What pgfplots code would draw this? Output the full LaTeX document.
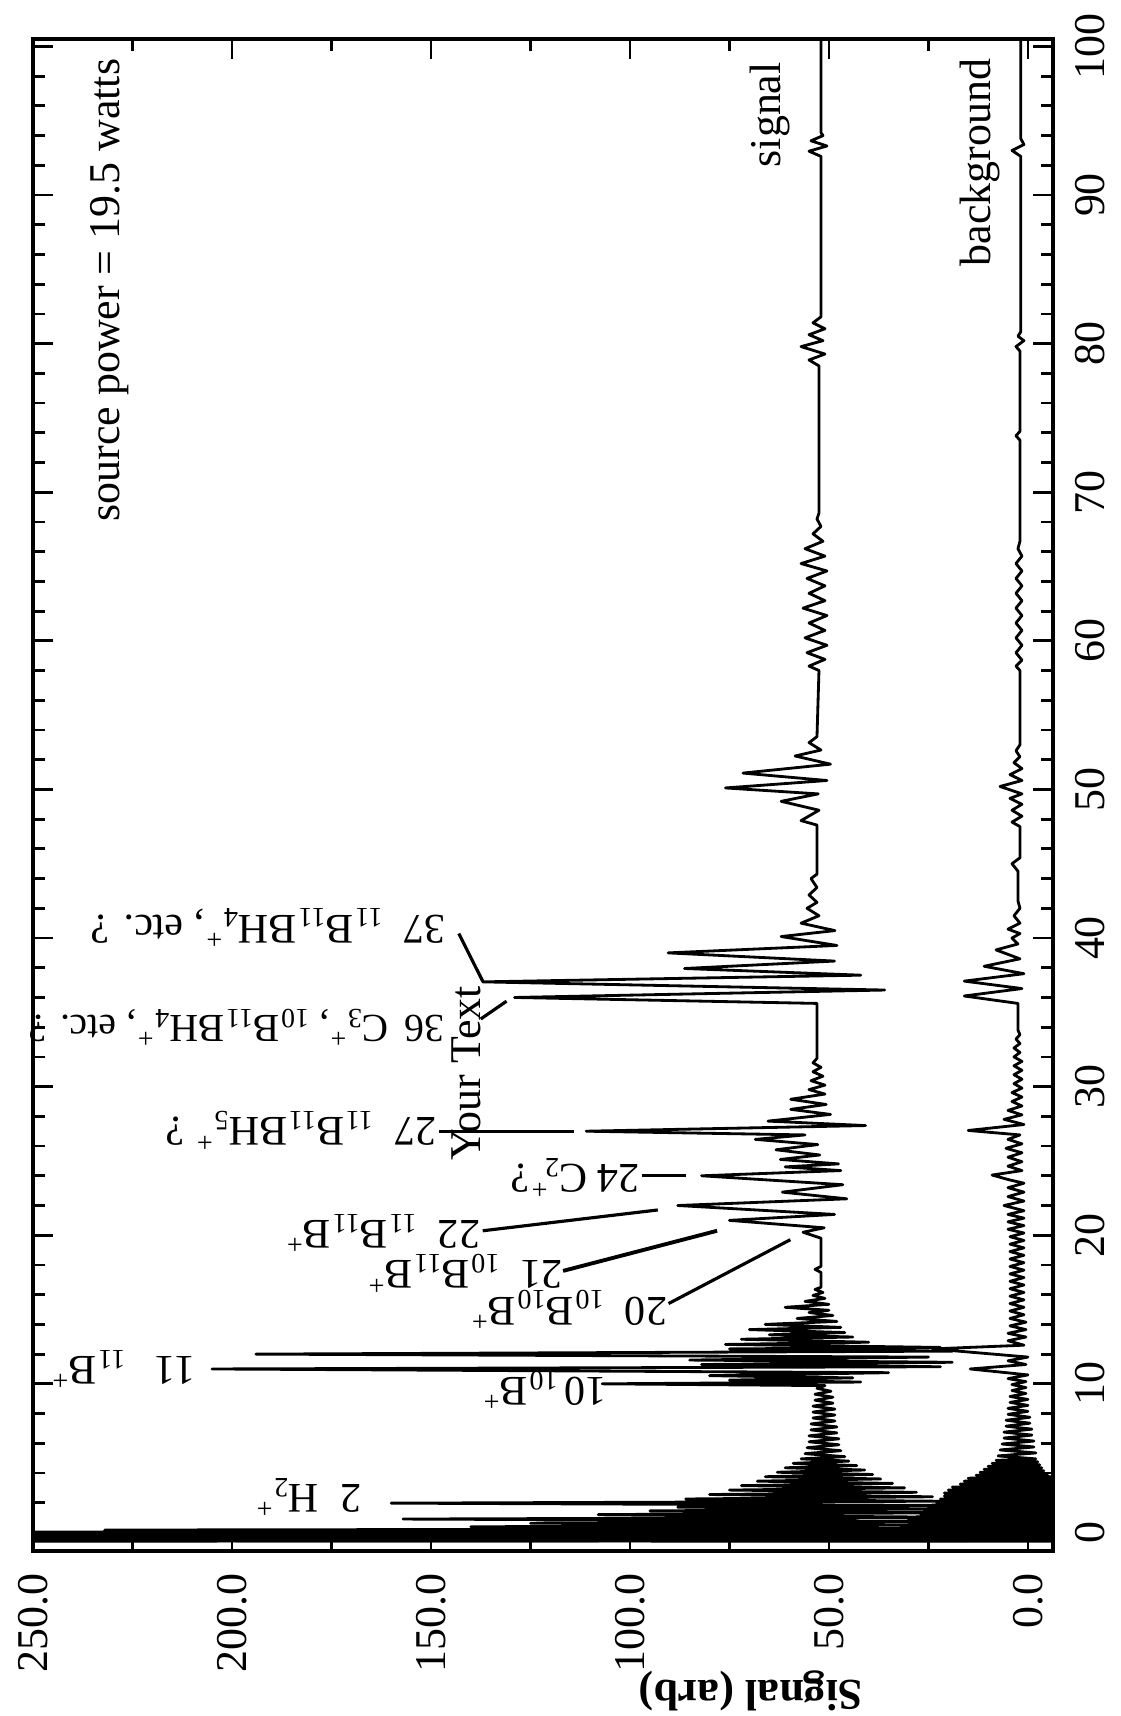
\documentclass[border=0pt]{standalone}
\usepackage{fontspec}
\setmainfont{Liberation Serif}
\usepackage{pgfplots}
\pgfplotsset{compat=1.18}
\newcommand{\sbp}[1]{\textsubscript{#1}\textsuperscript{+}}
\begin{document}
\begin{tikzpicture}[font=\fontsize{12.5}{15}\selectfont]
\begin{axis}[
  at={(0,0)}, anchor=south west,
  scale only axis, width=102mm, height=151.2mm,
  xmin=-6.3, xmax=250, ymin=-1.25, ymax=100.5,
  x dir=reverse,
  clip mode=individual,
  axis line style={line width=1pt},
  xtick={0,50,...,250}, minor x tick num=1,
  ytick={0,10,...,100}, minor y tick num=4,
  tick align=inside, tick pos=both,
  major tick length=2mm, minor tick length=1.2mm,
  every tick/.style={black, line width=0.8pt},
  xticklabel pos=lower, yticklabel pos=upper,
  /pgf/number format/assume math mode=true,
  xticklabel style={rotate=90, anchor=east, inner xsep=2.2mm, /pgf/number format/.cd, fixed, fixed zerofill, precision=1},
  yticklabel style={rotate=90, anchor=north, inner ysep=2.2mm},
]
% signal
\addplot[line width=0.8pt, line join=round] coordinates {
(300,-0.6) (15,-0.55) (300,-0.5) (15,-0.45) (300,-0.4) (15,-0.35) (300,-0.3) (15,-0.25) (300,-0.2) (15,-0.15) (300,-0.1) (15,-0.05) (280,0.02) (16,0.09) (232,0.16) (18,0.25) (140,0.38) (18,0.5) (125,0.62) (19,0.75) (157,0.9) (18,1.02) (108,1.2) (20,1.32) (95,1.45) (20,1.58) (88,1.7) (22,1.82) (160,1.97) (22,2.1) (86,2.25) (24,2.4) (80,2.55) (28,2.7) (75,2.85) (31,3.0) (72,3.15) (34,3.3) (68,3.45) (37,3.6) (66,3.75) (39,3.9) (63,4.05) (41,4.2) (61,4.35) (43,4.5) (59,4.65) (45,4.8) (57,4.95)
(46,5.1) (56,5.3) (47,5.5) (55.5,5.7) (47.5,5.9) (55,6.1) (47.5,6.3) (55,6.5) (48,6.7) (54.5,6.9) (48,7.1) (54.5,7.3) (48.5,7.5) (54,7.7) (48.5,7.9) (54,8.1) (48.5,8.3) (54,8.5) (49,8.7) (53.5,8.9) (49,9.1) (53.5,9.3) (49.5,9.5) (53,9.7) (51,9.88)
(107,10.0) (42,10.12) (75,10.25) (44,10.4) (80,10.55) (35,10.75) (205,11.0) (22,11.15) (82,11.3) (19,11.45) (85,11.6) (25,11.8) (194,12.0) (19,12.2) (75,12.35) (22,12.45) (76,12.65) (40,12.8) (72,13.0) (44,13.15) (65,13.3) (46,13.45) (70,13.65) (47,13.8) (66,14.0) (48,14.2) (58,14.4) (49,14.6) (55,14.8) (50,14.95) (61,15.15) (50,15.35) (56,15.55) (51,15.75) (54,15.95) (51.5,16.15) (53.5,16.35) (52,16.5) (52,17.5) (53.5,17.7) (52,17.9) (52,19.8)
(56.5,20.2) (51.2,20.5) (75,21.0) (48.6,21.4) (88,22.0) (45.5,22.45) (61.7,22.9) (46.5,23.4) (82,24.0) (47,24.35) (61,24.6) (47.6,24.8) (62.2,25.1) (52.3,25.4) (63.3,25.75) (52.8,26.1) (68.5,26.45) (56,26.75) (111,27.0) (40.8,27.38) (65.3,27.68) (49.6,28.13) (59.6,28.47) (50.7,28.8) (59.6,29.15) (51,29.5) (55,29.8) (51,30.1) (54.5,30.4) (51.5,30.7) (54,31.0) (52,31.3) (54,31.6) (53,31.9) (53,35.6)
(129,36.0) (36,36.5) (137,37.05) (42,37.5) (86.3,37.95) (48.6,38.45) (90.4,39.0) (48,39.5) (62,40.1) (48.5,40.5) (57,41.0) (52.5,41.5) (55.5,42.0) (53,42.4) (55,42.9) (53,43.4) (54.5,44.0) (53,44.3) (53,47.6)
(57,47.9) (52.5,48.6) (62,49.2) (52.7,49.7) (76,50.1) (50.5,50.6) (71.6,51.1) (49.6,51.7) (58.5,52.25) (52,52.65) (55,53.15) (53,53.55) (52.5,58.0)
(55,58.3) (51,58.75) (55.5,59.2) (50.5,59.7) (56,60.2) (51,60.7) (55,61.2) (50.5,61.7) (56.5,62.2) (51,62.7) (55,63.2) (51,63.7) (55.5,64.2) (50.5,64.7) (57,65.2) (51,65.7) (56,66.2) (51.5,66.7) (54,67.2) (52,67.7) (53,68.2) (52.5,68.6) (52.5,78.5)
(55,78.9) (51,79.3) (57,79.8) (51.5,80.2) (55,80.6) (51,81.0) (54,81.4) (52,81.8) (52,92.6) (55,92.95) (50.5,93.3) (54.5,93.65) (51.5,94.0) (52,94.2) (52,100.5)
};
% background
\addplot[line width=0.8pt, line join=round] coordinates {
(-10,-0.6) (300,-0.55) (-10,-0.5) (300,-0.45) (-10,-0.4) (300,-0.35) (-10,-0.3) (280,-0.25) (-10,-0.2) (260,-0.15) (-10,-0.1) (200,-0.05) (-10,0.0) (90,0.08) (-10,0.15) (40,0.25) (-10,0.35) (32,0.45) (-10,0.55) (30,0.65) (-10,0.75) (30,0.85) (-10,0.95) (28,1.05) (-10,1.15) (27,1.25) (-10,1.35) (26,1.45) (-10,1.55) (25,1.65) (-10,1.75) (24,1.85) (-10,1.95) (23,2.05) (-10,2.15) (22,2.25) (-10,2.35) (21,2.45) (-9,2.55) (21,2.65) (-9,2.75) (20,2.85) (-8,2.95) (19,3.05) (-8,3.15) (17,3.25) (-7,3.35) (16,3.45) (-7,3.55) (15,3.65) (-6,3.75) (13,3.85) (-5,3.95) (12,4.05) (-4,4.15) (11,4.25) (-3.5,4.35) (10,4.45) (-3,4.55) (9,4.65) (-2.5,4.75) (8,4.85) (-2,4.95)
(7.5,5.15) (-2,5.35) (7,5.55) (-1.5,5.75) (6.5,5.95) (-1.5,6.15) (6,6.35) (-1,6.55) (6,6.75) (-1,6.95) (5.5,7.15) (-0.5,7.35) (5.5,7.55) (-0.5,7.75) (5,7.95) (0,8.15) (5,8.35) (0,8.55) (4.5,8.75) (0,8.95) (4.5,9.15) (0.5,9.35) (4,9.55) (0.5,9.75) (4,9.95) (0.5,10.15) (5,10.35) (0,10.6) (14.5,11.0) (0.5,11.3) (5,11.55) (0,11.8) (24,12.35) (1,12.6) (5,12.9) (0.5,13.15) (5,13.4) (0.5,13.65) (4.5,13.9) (0.5,14.15) (4.5,14.4) (1,14.65) (4.5,14.9) (1,15.15) (4.5,15.4) (1,15.65) (4.5,15.9) (1,16.15) (4.5,16.4) (1,16.65) (4.5,16.9) (1,17.15) (4.5,17.4) (1,17.65) (4.5,17.9) (1,18.15) (4.5,18.4) (1,18.65) (4.5,18.9) (1,19.15) (4.5,19.4) (1,19.65) (4.5,19.9) (1,20.15) (5,20.4) (1,20.65) (5,20.9) (1,21.15) (5,21.4) (1,21.65) (6,22.0) (1,22.3) (5,22.6) (1,22.9) (5,23.2) (1,23.5) (5,23.75) (9,24.05) (1.5,24.35) (5,24.65) (1.5,24.95) (5,25.25) (1.5,25.55) (5.5,25.85) (1.5,26.15) (5,26.45) (2,26.75) (15,27.05) (1,27.45) (6,27.8) (1.5,28.1) (5,28.4) (1.5,28.7) (4,29.0) (1.5,29.3) (4,29.6) (1.5,29.9) (3.5,30.2) (1.5,30.5) (3.5,30.8) (1.5,31.1) (3.5,31.4) (1.5,31.7) (3.5,32.0) (2,32.3) (3.5,32.6) (2,32.9) (3,33.2) (2,33.5) (2.5,33.8) (2.5,35.6) (16,36.1) (1.5,36.6) (16,37.1) (1,37.6) (11,38.1) (2,38.6) (8,39.2) (2.5,39.6) (4,40.0) (2,40.3) (5,40.6) (2,41.0) (3.5,41.5) (2,42.0) (2.5,42.5) (2.5,44.5) (4,45.0) (2,45.4) (2,47.5) (4,47.8) (1.5,48.2) (4,48.6) (1.5,49.0) (4.5,49.4) (1.5,49.7) (7,50.2) (1.5,50.6) (4.5,51.0) (1.5,51.4) (3.5,51.8) (2,52.2) (3,52.6) (2,53.0) (2,58.0) (3,58.3) (1.5,58.7) (3,59.2) (1.5,59.7) (3,60.2) (1.5,60.7) (3,61.2) (1.5,61.7) (3,62.2) (1.5,62.7) (3,63.2) (1.5,63.7) (3,64.2) (1.5,64.7) (3,65.2) (1.5,65.7) (2.5,66.2) (2,66.7) (2,73.5) (3,73.8) (2,74.1) (2,79.5) (3,79.8) (1,80.2) (2.5,80.5) (1.8,80.8) (1.8,92.6) (4,93.0) (1,93.4) (1.8,93.8) (1.8,100.5)
};
% leader lines
\draw[line width=0.9pt] (axis cs:143,40.3) -- (axis cs:137,37.1);
\draw[line width=0.9pt] (axis cs:137.5,34.55) -- (axis cs:131,35.75);
\draw[line width=0.9pt] (axis cs:148,27.0) -- (axis cs:114,27.0);
\draw[line width=0.9pt] (axis cs:97,24.0) -- (axis cs:86,24.0);
\draw[line width=0.9pt] (axis cs:137,20.3) -- (axis cs:93,21.7);
\draw[line width=1.1pt] (axis cs:116.8,17.6) -- (axis cs:78.1,20.3);
\draw[line width=0.9pt] (axis cs:90.3,15.4) -- (axis cs:59.7,19.7);
% annotations (upside down)
\begin{scope}[every node/.style={rotate=180, anchor=west, inner sep=0pt, font=\fontsize{12}{14}\selectfont}]
\node at (axis cs:146.1,40.7) {37\enspace\textsubscript{11}B\textsubscript{11}BH\sbp{4}, etc. ?};
\node[font=\fontsize{11.3}{13}\selectfont] at (axis cs:146.5,34.0) {36\hspace{0.4em}C\sbp{3}, \textsubscript{10}B\textsubscript{11}BH\sbp{4}, etc. ?};
\node at (axis cs:148.5,27.07) {27\enspace\textsubscript{11}B\textsubscript{11}BH\sbp{5} ?};
\node at (axis cs:97.3,23.9) {24\hspace{0.25em}C\textsubscript{2}\kern-0.1em\textsuperscript{+}?};
\node at (axis cs:137.5,20.15) {22\enspace\textsubscript{11}B\textsubscript{11}B\textsuperscript{+}};
\node at (axis cs:116.7,17.45) {21\enspace\textsubscript{10}B\textsubscript{11}B\textsuperscript{+}};
\node at (axis cs:90.5,15.0) {20\enspace\textsubscript{10}B\textsubscript{10}B\textsuperscript{+}};
\node at (axis cs:209,11.0) {11\hspace{0.7em}\textsubscript{11}B\textsuperscript{+}};
\node at (axis cs:105.6,9.6) {10\thinspace\textsubscript{10}B\textsuperscript{+}};
\node at (axis cs:167.4,2.4) {2\enspace H\sbp{2}};
\end{scope}
\node[rotate=90] at (axis cs:230.8,83.6) {source power = 19.5 watts};
\node[rotate=90] at (axis cs:64.8,95.4) {signal};
\node[rotate=90] at (axis cs:12,92.2) {background};
\node[rotate=90, inner sep=0pt] at (axis cs:141,30.9) {Your Text};
\node[rotate=180, font=\fontsize{12.5}{15}\selectfont\bfseries] at (axis cs:69.6,-10.65) {Signal (arb)};
\end{axis}
\pgfresetboundingbox
\path[use as bounding box] (-3.3mm,-16.5mm) rectangle (108.8mm,155.1mm);
\end{tikzpicture}
\end{document}
